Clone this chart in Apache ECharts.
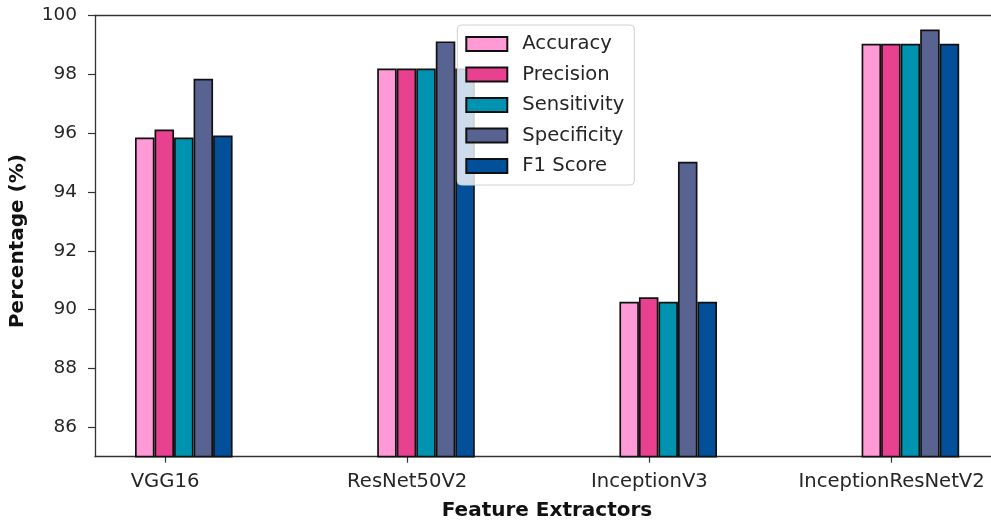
<!DOCTYPE html>
<html>
<head>
<meta charset="utf-8">
<script src="https://cdn.jsdelivr.net/npm/echarts@6/dist/echarts.min.js"></script>
<style>html,body{margin:0;padding:0;background:#fff;}#c{width:991px;height:522px;}</style>
</head>
<body>
<div id="c"></div>
<script>
const categories = ['VGG16', 'ResNet50V2', 'InceptionV3', 'InceptionResNetV2'];
const accuracy    = [95.85, 98.2, 90.27, 99.04];
const precision   = [96.12, 98.2, 90.42, 99.04];
const sensitivity = [95.85, 98.2, 90.27, 99.04];
const specificity = [97.85, 99.12, 95.03, 99.52];
const f1Score     = [95.92, 98.2, 90.27, 99.04];
const yTicks = [86, 88, 90, 92, 94, 96, 98, 100];

const names = ['Accuracy', 'Precision', 'Sensitivity', 'Specificity', 'F1 Score'];
const values = [accuracy, precision, sensitivity, specificity, f1Score];
const colors = ['#FF9AD6', '#E8418F', '#0092B1', '#596391', '#024F9A'];
const FONT = 'DejaVu Sans';
const TXT = '#262626';

const chart = echarts.init(document.getElementById('c'), null, {renderer: 'canvas'});
const gTop = 15.5, gH = 441.2;
const gridBase = {outerBoundsMode: 'none', containLabel: false};
const option = {
  animation: false,
  grid: [
    Object.assign({left: 95, top: gTop, width: 904, height: gH}, gridBase),
    Object.assign({left: 62.7, top: gTop, width: 968.8, height: gH}, gridBase),
    Object.assign({left: 43.9, top: gTop, width: 968.8, height: gH}, gridBase),
    Object.assign({left: 95, top: gTop, width: 904, height: gH * 14 / 15}, gridBase)
  ],
  xAxis: [
    {gridIndex: 0, type: 'value', min: 0, max: 1, position: 'bottom',
     axisLine: {show: true, lineStyle: {color: '#333', width: 1.3}},
     axisTick: {show: false}, axisLabel: {show: false}, splitLine: {show: false},
     name: 'Feature Extractors', nameLocation: 'middle', nameGap: 44,
     nameTextStyle: {fontFamily: FONT, fontSize: 20, fontWeight: 'bold', color: '#111'}},
    {gridIndex: 0, type: 'value', min: 0, max: 1, position: 'top',
     axisLine: {show: true, lineStyle: {color: '#333', width: 1.3}},
     axisTick: {show: false}, axisLabel: {show: false}, splitLine: {show: false}},
    {gridIndex: 1, type: 'category', data: categories, show: false},
    {gridIndex: 2, type: 'category', data: categories, position: 'bottom',
     axisLine: {show: false},
     axisTick: {show: true, alignWithLabel: true, length: 6, lineStyle: {color: '#333', width: 1.2}},
     axisLabel: {fontFamily: FONT, fontSize: 19.6, color: TXT, margin: 15},
     splitLine: {show: false}},
    {gridIndex: 3, type: 'value', min: 0, max: 1, show: false}
  ],
  yAxis: [
    {gridIndex: 0, type: 'value', min: 85, max: 100,
     axisLine: {show: true, lineStyle: {color: '#333', width: 1.3}},
     axisTick: {show: false}, axisLabel: {show: false}, splitLine: {show: false},
     name: 'Percentage (%)', nameLocation: 'middle', nameGap: 67,
     nameTextStyle: {fontFamily: FONT, fontSize: 20, fontWeight: 'bold', color: '#111', padding: [0, 10, 0, 0]}},
    {gridIndex: 1, type: 'value', min: 85, max: 100, show: false},
    {gridIndex: 2, type: 'value', min: 85, max: 100, show: false},
    {gridIndex: 3, type: 'value', min: yTicks[0], max: yTicks[yTicks.length - 1], interval: 2,
     axisLine: {show: false},
     axisTick: {show: true, length: 7, lineStyle: {color: '#333', width: 1.2}},
     axisLabel: {fontFamily: FONT, fontSize: 18.5, color: TXT, margin: 18},
     splitLine: {show: false}}
  ],
  legend: {
    left: 457.3, top: 25,
    orient: 'vertical',
    data: names,
    icon: 'rect',
    itemWidth: 41, itemHeight: 14, itemGap: 10.5,
    padding: [9, 10, 9, 8],
    backgroundColor: 'rgba(255,255,255,0.8)',
    borderColor: '#d0d0d0', borderWidth: 1, borderRadius: 4,
    textStyle: {fontFamily: FONT, fontSize: 19.6, color: TXT, padding: [0, 0, 0, 10]}
  },
  series: names.map((n, i) => ({
    name: n, type: 'bar', xAxisIndex: 2, yAxisIndex: 1,
    data: values[i],
    barGap: '0%', barCategoryGap: '59.7%',
    itemStyle: {color: colors[i], borderColor: '#111', borderWidth: 1.7},
    emphasis: {disabled: true}
  }))
};
chart.setOption(option);
</script>
</body>
</html>
